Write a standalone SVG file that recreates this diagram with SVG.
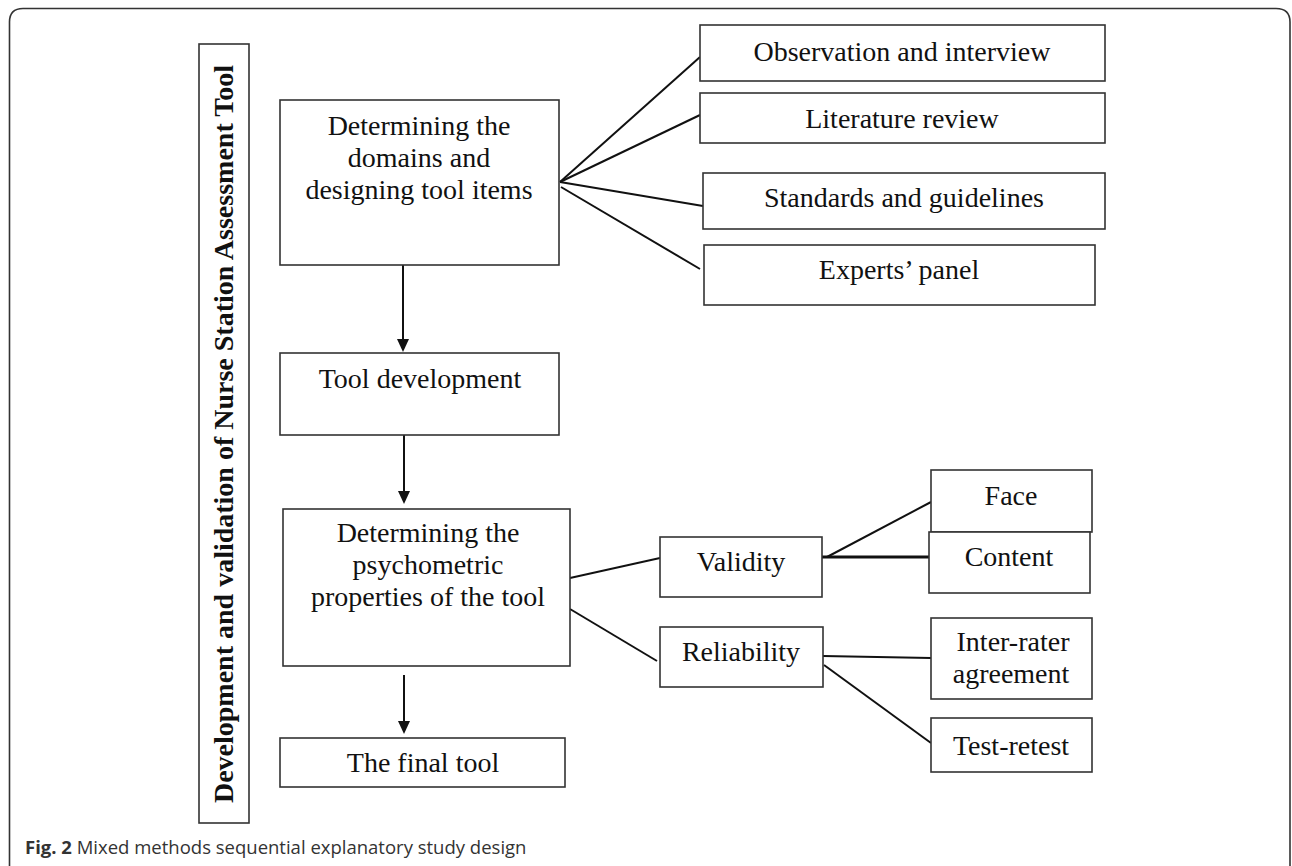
<svg xmlns="http://www.w3.org/2000/svg" width="1292" height="866" viewBox="0 0 1292 866">
<defs>
<style>
.box{fill:#fff;stroke:#333;stroke-width:1.6}
.t{font-family:"Liberation Serif","Times New Roman",serif;font-size:28px;fill:#111;text-anchor:middle}
.title{font-family:"Liberation Serif","Times New Roman",serif;font-size:28px;font-weight:bold;fill:#111;text-anchor:middle}
.cap{font-family:"Open Sans","Noto Sans",sans-serif;font-size:18.5px;fill:#333}
.ln{stroke:#111;stroke-width:2;fill:none}
.ah{fill:#111}
</style>
</defs>
<rect width="1292" height="866" fill="#fff"/>
<path d="M9.5,866 V22 Q9.5,8.5 23,8.5 H1276 Q1290,8.5 1290,22 V866" fill="none" stroke="#333" stroke-width="1.6"/>

<g id="title">
<rect class="box" x="199" y="44" width="50" height="779"/>
<text class="title" transform="translate(233,434) rotate(-90)">Development and validation of Nurse Station Assessment Tool</text>
</g>

<g id="connectors">
<line class="ln" x1="560" y1="182" x2="700" y2="57"/>
<line class="ln" x1="560" y1="182" x2="700" y2="115"/>
<line class="ln" x1="560" y1="182" x2="703" y2="206"/>
<line class="ln" x1="561" y1="187" x2="700" y2="269"/>
<line class="ln" x1="403" y1="265" x2="403" y2="340"/>
<path class="ah" d="M397,339 L409,339 L403,352 Z"/>
<line class="ln" x1="404" y1="435" x2="404" y2="492"/>
<path class="ah" d="M398,491 L410,491 L404,504 Z"/>
<line class="ln" x1="404" y1="675" x2="404" y2="722"/>
<path class="ah" d="M398,721 L410,721 L404,734 Z"/>
<line class="ln" x1="570" y1="578" x2="660" y2="558"/>
<line class="ln" x1="570" y1="609" x2="657" y2="661"/>
<line class="ln" x1="827" y1="557" x2="931" y2="502"/>
<line stroke="#111" stroke-width="3" x1="822" y1="557" x2="929" y2="557"/>
<line class="ln" x1="823" y1="656" x2="931" y2="658"/>
<line class="ln" x1="824" y1="665" x2="931" y2="743"/>
</g>

<g id="domains">
<rect class="box" x="280" y="100" width="279" height="165"/>
<text class="t" x="419" y="135">Determining the</text>
<text class="t" x="419" y="167">domains and</text>
<text class="t" x="419" y="199">designing tool items</text>
</g>
<g id="observation">
<rect class="box" x="700" y="25" width="405" height="56"/>
<text class="t" x="902" y="61">Observation and interview</text>
</g>
<g id="literature">
<rect class="box" x="700" y="93" width="405" height="50"/>
<text class="t" x="902" y="128">Literature review</text>
</g>
<g id="standards">
<rect class="box" x="703" y="173" width="402" height="56"/>
<text class="t" x="904" y="207">Standards and guidelines</text>
</g>
<g id="experts">
<rect class="box" x="704" y="245" width="391" height="60"/>
<text class="t" x="899" y="279">Experts’ panel</text>
</g>
<g id="tooldev">
<rect class="box" x="280" y="353" width="279" height="82"/>
<text class="t" x="420" y="388">Tool development</text>
</g>
<g id="psychometric">
<rect class="box" x="283" y="509" width="287" height="157"/>
<text class="t" x="428" y="542">Determining the</text>
<text class="t" x="428" y="574">psychometric</text>
<text class="t" x="428" y="606">properties of the tool</text>
</g>
<g id="final">
<rect class="box" x="280" y="738" width="285" height="49"/>
<text class="t" x="423" y="772">The final tool</text>
</g>
<g id="validity">
<rect class="box" x="660" y="537" width="162" height="60"/>
<text class="t" x="741" y="571">Validity</text>
</g>
<g id="reliability">
<rect class="box" x="660" y="627" width="163" height="60"/>
<text class="t" x="741" y="661">Reliability</text>
</g>
<g id="face">
<rect class="box" x="931" y="470" width="161" height="62"/>
<text class="t" x="1011" y="505">Face</text>
</g>
<g id="content">
<rect class="box" x="929" y="532" width="161" height="61"/>
<text class="t" x="1009" y="566">Content</text>
</g>
<g id="interrater">
<rect class="box" x="931" y="618" width="161" height="81"/>
<text class="t" x="1013" y="651">Inter-rater</text>
<text class="t" x="1011" y="683">agreement</text>
</g>
<g id="testretest">
<rect class="box" x="931" y="718" width="161" height="54"/>
<text class="t" x="1011" y="755">Test-retest</text>
</g>

<text class="cap" x="25" y="854"><tspan font-weight="bold">Fig. 2</tspan> Mixed methods sequential explanatory study design</text>
</svg>
